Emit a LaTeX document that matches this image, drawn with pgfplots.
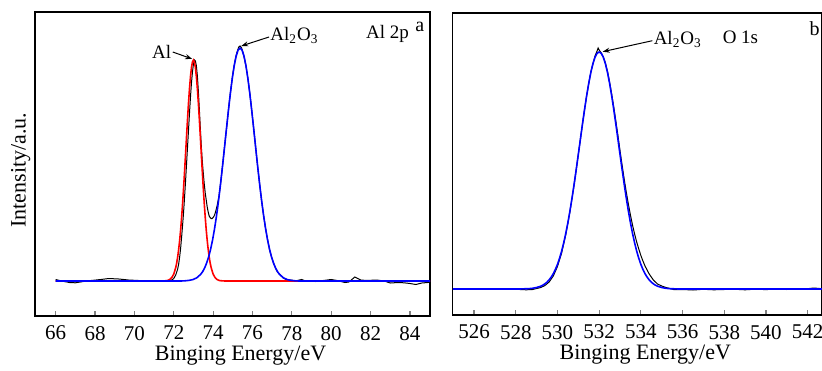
\documentclass[border=0pt]{standalone}
\usepackage{fontspec}
\setmainfont{Liberation Serif}
\usepackage{pgfplots}
\pgfplotsset{compat=1.18}
\usepackage{pgfplotstable}
\usetikzlibrary{arrows.meta}
\pgfplotstableread{
x y
66.0 1.5
66.3 0
66.7 -1.5
67.0 -1.8
67.4 -0.5
67.8 0.5
68.3 1.5
68.7 2.5
69.2 2
69.7 1
70.2 0.5
70.7 0
71.2 0.5
71.5 0
71.8 0.5
71.9 1
72.0 2.5
72.1 6
72.2 12
72.25 17
72.3 24
72.35 33
72.4 44
72.45 56
72.5 69
72.55 84
72.6 100
72.65 117
72.7 134
72.75 151
72.8 168
72.85 184
72.9 198
72.95 209
73.0 217
73.05 221
73.1 220
73.15 215
73.2 205
73.25 190
73.3 172
73.35 153
73.4 135
73.45 120
73.5 108
73.55 97
73.6 88
73.65 81
73.7 74
73.75 69
73.8 65
73.85 63.5
73.9 62.5
73.95 62.5
74.0 63.5
74.05 65
74.1 67.5
74.15 71
74.2 75
74.3 85
74.4 101
74.5 119
74.6 138
74.7 156
74.8 175
74.9 192
75.0 207
75.1 219
75.2 228
75.3 234
75.37 235
75.45 233
75.55 226
75.67 215
75.77 202
75.87 187
75.97 169
76.07 151
76.17 132
76.27 113
76.37 96
76.47 79
76.57 65
76.67 52
76.77 41
76.87 31
76.97 24
77.07 18
77.17 13
77.27 9
77.37 7
77.57 3
77.77 1
77.97 1
78.17 0
78.5 1.5
78.7 0
79.2 -0.5
79.6 0.5
80.0 1.5
80.3 0.5
80.7 -1.5
80.9 -1
81.2 4
81.5 1
81.8 0.5
82.3 1
82.7 0
83.0 -2
83.4 -1.5
83.7 -1.8
84.0 -2.5
84.3 -3.5
84.6 -2
84.9 -1.5
85.02 -1
}\blackA
\pgfplotstableread{
x y
66.0 0
71.4 0
71.6 0.25
71.7 0.6
71.8 1.5
71.9 3.4
72.0 6.9
72.1 13.4
72.15 18.1
72.2 24.1
72.25 31.6
72.3 40.6
72.35 51.2
72.4 63.6
72.45 77.6
72.5 93.0
72.55 109.7
72.6 127.0
72.65 144.6
72.7 161.9
72.75 178.0
72.8 192.4
72.85 204.4
72.9 213.5
72.95 219.1
73.0 221.0
73.05 219.1
73.1 213.5
73.15 204.4
73.2 192.4
73.25 178.0
73.3 161.9
73.35 144.6
73.4 127.0
73.45 109.7
73.5 93.0
73.55 77.6
73.6 63.6
73.65 51.2
73.7 40.6
73.75 31.6
73.8 24.1
73.85 18.1
73.9 13.4
74.0 6.9
74.1 3.4
74.2 1.5
74.3 0.6
74.4 0.25
74.6 0
85.02 0
}\redA
\pgfplotstableread{
x y
66.0 0
72.37 0
72.57 0.2
72.77 0.6
72.97 1.4
73.17 3.2
73.37 6.7
73.47 9.4
73.57 13.1
73.67 17.9
73.77 23.9
73.87 31.5
73.97 40.8
74.07 51.9
74.17 64.8
74.27 79.5
74.37 95.8
74.47 113.4
74.57 131.9
74.67 150.7
74.77 169.2
74.87 186.6
74.97 202.1
75.07 215.1
75.17 224.9
75.27 230.9
75.37 233.0
75.47 230.9
75.57 224.9
75.67 215.1
75.77 202.1
75.87 186.6
75.97 169.2
76.07 150.7
76.17 131.9
76.27 113.4
76.37 95.8
76.47 79.5
76.57 64.8
76.67 51.9
76.77 40.8
76.87 31.5
76.97 23.9
77.07 17.9
77.17 13.1
77.27 9.4
77.37 6.7
77.57 3.2
77.77 1.4
77.97 0.6
78.17 0.2
78.37 0
85.02 0
}\blueA
\pgfplotstableread{
x y
524.98 0
525.5 0.5
526.0 -0.3
526.5 0.4
527.0 -0.2
527.5 0.3
528.0 0
528.2 -0.5
528.5 -0.8
528.8 -0.5
529.0 0.5
529.2 1.5
529.4 3.5
529.6 7
529.8 13
530.0 22.5
530.2 36
530.4 54.5
530.6 77.5
530.8 104.5
531.0 134.5
531.2 165
531.4 193.5
531.6 217
531.8 233
531.9 238
531.95 241
532.0 239
532.1 236
532.2 232
532.3 226
532.4 217.5
532.5 207
532.6 195
532.7 182
532.8 168
532.9 153.5
533.0 138.5
533.1 124
533.2 110
533.3 97
533.4 85
533.5 74
533.6 64
533.7 55
533.8 47
533.9 40
534.0 33.5
534.1 28
534.2 23
534.3 19
534.4 15
534.6 9
534.8 5
535.0 3
535.2 1.5
535.4 0.5
535.6 -0.7
536.0 -0.5
536.5 -1
537.0 -0.3
537.5 -0.8
538.0 -0.5
538.5 -0.3
539.0 -0.8
539.5 -0.2
540.0 -0.6
540.5 0
541.0 -0.5
541.5 0.2
542.0 0.3
542.3 1
542.68 0.3
}\blackB
\pgfplotstableread{
x y
524.98 0
528.2 0
528.4 0.2
528.6 0.3
528.8 0.7
529.0 1.5
529.2 2.8
529.3 3.8
529.4 5.2
529.5 6.9
529.6 9.1
529.7 11.9
529.8 15.3
529.9 19.5
530.0 24.6
530.1 30.7
530.2 37.9
530.3 46.2
530.4 55.7
530.5 66.3
530.6 78.2
530.7 91.1
530.8 104.9
530.9 119.5
531.0 134.6
531.1 149.8
531.2 165.0
531.3 179.6
531.4 193.3
531.5 205.7
531.6 216.5
531.7 225.2
531.8 231.7
531.9 235.7
532.0 237.0
532.1 235.7
532.2 231.7
532.3 225.2
532.4 216.5
532.5 205.7
532.6 193.3
532.7 179.6
532.8 165.0
532.9 149.8
533.0 134.6
533.1 119.5
533.2 104.9
533.3 91.1
533.4 78.2
533.5 66.3
533.6 55.7
533.7 46.2
533.8 37.9
533.9 30.7
534.0 24.6
534.1 19.5
534.2 15.3
534.3 11.9
534.4 9.1
534.5 6.9
534.6 5.2
534.7 3.8
534.8 2.8
535.0 1.5
535.2 0.7
535.4 0.3
535.6 0.2
535.8 0
542.68 0
}\blueB
\pgfplotsset{
  myaxis/.style={
    scale only axis,
    anchor=south west,
    axis line style={line width=0.65pt},
    ytick=\empty,
    xtick pos=bottom,
    tick align=inside,
    major tick length=2.5pt,
    xtick style={line width=0.6pt},
    ticklabel style={font=\fontsize{10.5}{12}\selectfont},
    xticklabel shift=1.5pt,
    label style={font=\fontsize{11}{13}\selectfont},
    xlabel style={at={(axis description cs:0.5,0)}, anchor=center, yshift=-20pt, xshift=4pt},
    clip mode=individual,
  },
}
\tikzset{
  ann/.style={font=\fontsize{9.5}{11}\selectfont, inner sep=0pt},
  arr/.style={-{Stealth[length=3.5pt,width=2.5pt]}, line width=0.5pt},
}
\begin{document}
\begin{tikzpicture}
\useasboundingbox (0,0) rectangle (411pt,185pt);
\begin{axis}[myaxis,
  at={(17.5pt,27pt)}, width=197.5pt, height=152pt,
  xmin=64.95, xmax=85.02, ymin=-35, ymax=269,
  xtick={66,68,70,72,74,76,78,80,82,84},
  xticklabels={66,68,70,72,74,76,78,80,82,84},
  xlabel={Binging Energy/eV},
  ylabel={Intensity/a.u.},
  ylabel style={at={(axis description cs:0.006,0.48)}, anchor=south},
]
\addplot[black, line width=0.5pt] table {\blackA};
\addplot[red, line width=0.8pt] table {\redA};
\addplot[blue, line width=0.8pt] table {\blueA};
\node[ann, anchor=east] at (axis cs:71.89,229) {Al};
\draw[arr] (axis cs:71.95,229) -- (axis cs:72.94,222);
\node[ann, anchor=base west] at (axis cs:76.89,240) {Al\textsubscript{2}O\textsubscript{3}};
\draw[arr] (axis cs:76.84,244) -- (axis cs:75.43,235);
\node[ann, anchor=base west] at (axis cs:81.75,242) {Al 2p};
\node[ann, anchor=base west, font=\fontsize{10}{12}\selectfont] at (axis cs:84.26,249) {a};
\end{axis}
\begin{axis}[myaxis,
  at={(226.4pt,27.5pt)}, width=184.5pt, height=151pt,
  xmin=524.98, xmax=542.68, ymin=-26, ymax=276,
  xtick={526,528,530,532,534,536,538,540,542},
  xticklabels={526,528,530,532,534,536,538,540,542},
  xlabel={Binging Energy/eV},
]
\addplot[black, line width=0.5pt] table {\blackB};
\addplot[blue, line width=0.8pt] table {\blueB};
\node[ann, anchor=base west] at (axis cs:534.6,244) {Al\textsubscript{2}O\textsubscript{3}};
\draw[arr] (axis cs:534.55,248.3) -- (axis cs:532.17,237.3);
\node[ann, anchor=base west] at (axis cs:537.91,245) {O 1s};
\node[ann, anchor=base west, font=\fontsize{10}{12}\selectfont] at (axis cs:542.08,253) {b};
\end{axis}
\end{tikzpicture}
\end{document}
